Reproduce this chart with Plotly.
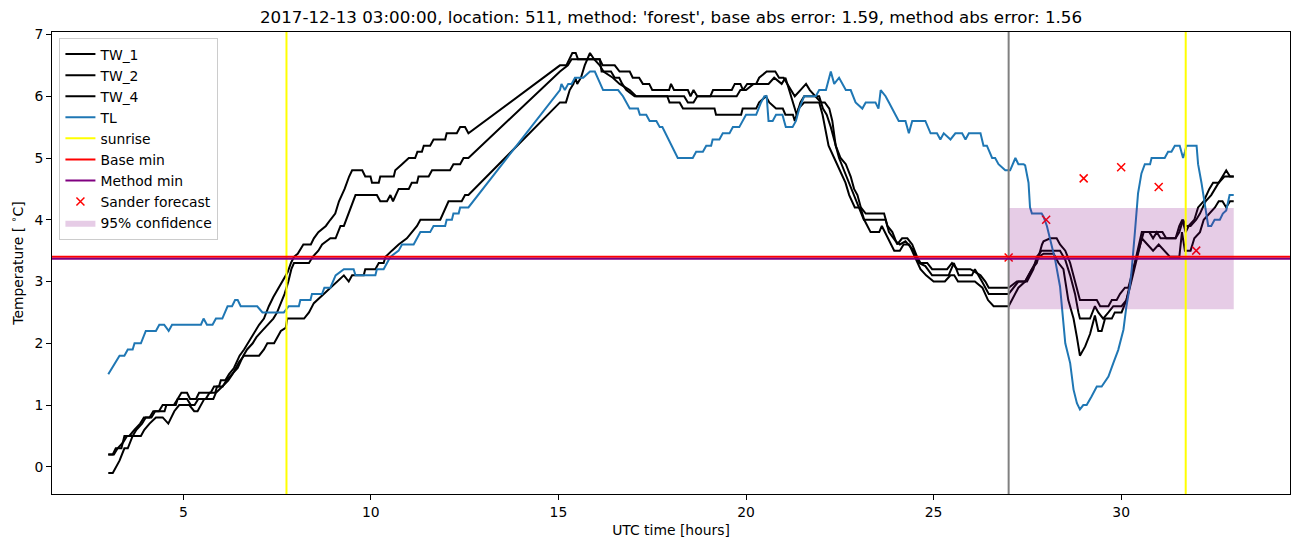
import plotly.graph_objects as go

# ---------------- data ----------------
tw1_hours = [3.0, 3.12, 3.2, 3.35, 3.43, 3.56, 3.7, 3.85, 3.95, 4.1, 4.2, 4.35, 4.45, 4.8, 4.85, 4.95, 5.1, 5.18, 5.34, 5.42, 5.73, 5.82, 5.95, 6.0, 6.12, 6.22, 6.35, 6.5, 6.62, 6.72, 6.9, 7.02, 7.15, 7.28, 7.4, 7.55, 7.65, 7.78, 7.87, 7.95, 8.05, 8.2, 8.4, 8.48, 8.6, 8.8, 8.92, 9.05, 9.15, 9.3, 9.42, 9.5, 9.77, 9.85, 9.99, 10.03, 10.21, 10.25, 10.61, 10.65, 10.83, 11.01, 11.18, 11.24, 11.36, 11.41, 11.58, 11.67, 11.98, 12.02, 12.29, 12.38, 12.51, 12.6, 15.04, 15.21, 15.37, 15.46, 15.52, 16.1, 16.18, 16.5, 16.63, 16.9, 16.98, 17.15, 17.25, 17.42, 17.5, 17.95, 18.0, 18.08, 18.45, 18.52, 18.6, 18.7, 19.05, 19.12, 19.62, 19.7, 19.85, 19.92, 20.03, 20.27, 20.35, 20.55, 20.78, 20.88, 21.0, 21.1, 21.2, 21.3, 21.45, 21.6, 21.7, 21.85, 22.0, 22.1, 22.22, 22.3, 22.39, 22.52, 22.66, 22.79, 22.88, 22.97, 23.06, 23.19, 23.68, 23.77, 23.9, 24.03, 24.16, 24.3, 24.43, 24.56, 24.65, 24.83, 24.96, 25.36, 25.49, 25.63, 25.98, 26.25, 26.38, 26.47, 27.0, 27.22, 27.44, 27.62, 27.75, 27.89, 27.93, 28.11, 28.28, 28.37, 28.51, 28.64, 28.77, 28.9, 29.35, 29.44, 29.66, 29.75, 29.88, 29.97, 30.1, 30.19, 30.32, 30.45, 30.6, 31.1, 31.2, 31.45, 31.55, 31.63, 31.72, 31.8, 31.95, 32.05, 32.2, 32.35, 32.45, 32.6, 32.7, 32.8, 32.9, 33.0]
tw1_temp = [0.2, 0.2, 0.3, 0.3, 0.5, 0.5, 0.6, 0.7, 0.8, 0.8, 0.9, 0.9, 1.0, 1.0, 1.1, 1.2, 1.2, 1.1, 1.1, 1.2, 1.2, 1.3, 1.3, 1.4, 1.4, 1.5, 1.6, 1.8, 1.9, 2.0, 2.2, 2.3, 2.4, 2.6, 2.75, 2.9, 3.0, 3.15, 3.3, 3.4, 3.45, 3.6, 3.6, 3.7, 3.8, 3.9, 4.0, 4.1, 4.3, 4.5, 4.7, 4.8, 4.8, 4.7, 4.7, 4.6, 4.6, 4.7, 4.7, 4.8, 4.9, 5.0, 5.0, 5.1, 5.1, 5.2, 5.2, 5.3, 5.3, 5.4, 5.4, 5.5, 5.5, 5.4, 6.5, 6.5, 6.7, 6.7, 6.6, 6.6, 6.5, 6.5, 6.4, 6.4, 6.3, 6.3, 6.2, 6.2, 6.1, 6.1, 6.2, 6.1, 6.1, 6.0, 6.1, 6.0, 6.0, 6.1, 6.1, 6.2, 6.2, 6.1, 6.2, 6.2, 6.3, 6.4, 6.4, 6.3, 6.3, 6.2, 6.1, 6.0, 6.1, 6.2, 6.1, 6.0, 5.9, 5.9, 5.8, 5.6, 5.2, 5.0, 4.9, 4.7, 4.5, 4.4, 4.2, 4.1, 4.1, 3.9, 3.8, 3.6, 3.7, 3.7, 3.6, 3.4, 3.3, 3.3, 3.2, 3.2, 3.3, 3.2, 3.2, 3.1, 3.0, 2.9, 2.9, 3.0, 3.0, 3.2, 3.3, 3.6, 3.65, 3.7, 3.7, 3.6, 3.5, 3.3, 3.0, 2.7, 2.7, 2.6, 2.6, 2.7, 2.7, 2.8, 2.9, 2.9, 3.2, 3.5, 3.8, 3.8, 3.7, 3.7, 3.9, 4.0, 3.8, 3.9, 4.0, 4.2, 4.3, 4.5, 4.6, 4.6, 4.7, 4.8, 4.7, 4.7]

tw2_hours = [3.0, 3.15, 3.25, 3.4, 3.5, 3.65, 3.75, 3.9, 4.0, 4.15, 4.25, 4.5, 4.55, 4.75, 4.85, 5.1, 5.2, 5.3, 5.4, 5.6, 5.7, 5.85, 5.9, 6.05, 6.15, 6.3, 6.45, 6.6, 6.7, 6.85, 6.95, 7.1, 7.25, 7.4, 7.5, 7.6, 7.7, 7.8, 7.88, 7.95, 8.35, 8.45, 8.6, 8.7, 8.92, 9.06, 9.19, 9.28, 9.46, 9.59, 10.16, 10.25, 10.43, 10.52, 10.59, 10.74, 11.01, 11.09, 11.23, 11.27, 11.54, 11.63, 12.11, 12.2, 12.38, 12.47, 12.6, 15.04, 15.25, 15.35, 16.1, 16.15, 16.4, 16.5, 16.62, 16.7, 16.81, 17.03, 18.35, 18.45, 18.6, 18.7, 19.75, 19.85, 20.0, 20.2, 20.6, 20.75, 20.95, 21.05, 21.15, 21.25, 21.35, 21.45, 21.55, 21.95, 22.05, 22.15, 22.26, 22.48, 22.75, 23.01, 23.14, 23.72, 23.81, 23.99, 24.1, 24.25, 24.47, 24.61, 24.78, 24.96, 25.4, 25.54, 25.67, 26.02, 26.1, 26.29, 26.47, 27.0, 27.26, 27.49, 27.66, 27.75, 27.88, 28.37, 28.51, 28.64, 28.77, 28.86, 28.9, 29.17, 29.3, 29.39, 29.52, 29.66, 29.79, 30.01, 30.14, 30.25, 30.4, 30.55, 30.75, 30.85, 30.95, 31.05, 31.45, 31.55, 31.65, 31.72, 31.85, 32.0, 32.1, 32.25, 32.4, 32.5, 32.6, 32.75, 33.0]
tw2_temp = [0.2, 0.2, 0.3, 0.4, 0.5, 0.5, 0.6, 0.7, 0.8, 0.8, 0.9, 0.9, 1.0, 1.0, 1.1, 1.1, 1.0, 1.0, 1.1, 1.1, 1.2, 1.2, 1.3, 1.3, 1.4, 1.5, 1.6, 1.8, 1.9, 2.0, 2.1, 2.2, 2.3, 2.4, 2.5, 2.65, 2.8, 3.0, 3.2, 3.3, 3.3, 3.4, 3.5, 3.6, 3.7, 3.7, 3.9, 3.9, 4.2, 4.4, 4.4, 4.3, 4.3, 4.4, 4.3, 4.5, 4.5, 4.6, 4.6, 4.7, 4.7, 4.8, 4.8, 4.9, 4.9, 5.0, 5.0, 6.4, 6.5, 6.6, 6.6, 6.4, 6.4, 6.3, 6.3, 6.2, 6.1, 6.0, 6.0, 5.9, 5.9, 6.0, 6.0, 6.1, 6.1, 6.2, 6.2, 6.3, 6.2, 6.3, 6.1, 5.9, 5.7, 5.9, 6.0, 6.0, 5.8, 5.7, 5.5, 5.0, 4.6, 4.2, 4.0, 4.0, 3.8, 3.65, 3.6, 3.65, 3.5, 3.3, 3.25, 3.1, 3.1, 3.3, 3.1, 3.1, 3.2, 3.0, 2.8, 2.8, 3.0, 3.0, 3.2, 3.4, 3.5, 3.5, 3.35, 3.1, 2.8, 2.5, 2.4, 2.4, 2.6, 2.5, 2.4, 2.5, 2.6, 2.6, 2.7, 3.0, 3.4, 3.8, 3.8, 3.7, 3.8, 3.7, 3.7, 3.8, 4.0, 3.9, 3.9, 4.0, 4.1, 4.3, 4.4, 4.5, 4.6, 4.7, 4.7]

tw4_hours = [3.0, 3.12, 3.3, 3.43, 3.52, 3.65, 3.87, 3.96, 4.1, 4.27, 4.45, 4.6, 4.76, 4.89, 5.16, 5.29, 5.38, 5.56, 5.8, 5.87, 6.04, 6.2, 6.31, 6.49, 6.62, 7.02, 7.15, 7.24, 7.42, 7.6, 7.73, 7.77, 8.22, 8.35, 8.48, 8.57, 8.75, 8.92, 9.1, 9.28, 9.41, 9.5, 9.81, 9.85, 10.12, 10.21, 10.34, 10.39, 10.56, 10.74, 10.96, 11.09, 11.23, 11.32, 11.85, 12.07, 12.42, 12.51, 12.6, 15.04, 15.2, 15.3, 15.4, 15.45, 15.5, 15.6, 15.7, 15.84, 15.95, 16.1, 16.2, 16.45, 16.63, 16.9, 17.07, 17.9, 17.96, 18.23, 18.32, 19.16, 19.2, 19.87, 19.91, 20.27, 20.35, 20.53, 20.62, 20.8, 20.98, 21.05, 21.25, 21.3, 21.4, 21.55, 21.95, 22.04, 22.1, 22.2, 22.35, 22.5, 22.65, 22.75, 22.9, 23.05, 23.15, 23.32, 23.55, 23.62, 23.7, 23.85, 23.95, 24.1, 24.2, 24.35, 24.5, 24.65, 24.8, 25.0, 25.3, 25.45, 25.55, 25.65, 26.1, 26.3, 26.45, 26.6, 27.0, 27.13, 27.26, 27.44, 27.62, 27.8, 27.93, 28.2, 28.33, 28.46, 28.59, 28.73, 28.82, 28.9, 29.04, 29.17, 29.3, 29.39, 29.48, 29.57, 29.75, 29.83, 30.01, 30.14, 30.23, 30.4, 30.55, 30.7, 30.85, 31.0, 31.15, 31.3, 31.55, 31.62, 31.7, 31.85, 31.95, 32.1, 32.2, 32.35, 32.5, 32.6, 32.7, 32.8, 32.9, 33.0]
tw4_temp = [-0.1, -0.1, 0.1, 0.3, 0.3, 0.5, 0.5, 0.6, 0.7, 0.8, 0.8, 0.7, 0.9, 1.0, 1.0, 0.9, 0.9, 1.1, 1.1, 1.2, 1.3, 1.4, 1.5, 1.7, 1.8, 1.8, 1.9, 2.0, 2.0, 2.2, 2.25, 2.4, 2.4, 2.5, 2.65, 2.7, 2.8, 2.9, 3.0, 3.1, 3.0, 3.1, 3.1, 3.2, 3.2, 3.3, 3.3, 3.4, 3.5, 3.6, 3.7, 3.8, 3.9, 4.0, 4.0, 4.3, 4.3, 4.4, 4.4, 5.9, 5.9, 6.1, 6.2, 6.3, 6.2, 6.3, 6.5, 6.7, 6.6, 6.5, 6.4, 6.3, 6.2, 6.1, 6.0, 6.0, 5.9, 5.9, 5.8, 5.8, 5.7, 5.7, 5.8, 5.8, 5.9, 6.0, 5.9, 5.8, 5.8, 5.7, 5.7, 5.6, 5.8, 5.9, 5.9, 5.7, 5.5, 5.2, 5.0, 4.8, 4.6, 4.4, 4.2, 4.2, 4.0, 3.8, 3.8, 3.9, 3.8, 3.6, 3.5, 3.5, 3.6, 3.6, 3.4, 3.2, 3.1, 3.0, 3.0, 3.1, 3.1, 3.0, 3.0, 2.9, 2.7, 2.6, 2.6, 2.75, 2.9, 3.0, 3.2, 3.4, 3.45, 3.45, 3.3, 3.2, 2.7, 2.4, 2.1, 1.8, 1.95, 2.15, 2.45, 2.2, 2.2, 2.4, 2.4, 2.5, 2.5, 2.7, 2.9, 3.3, 3.7, 3.6, 3.5, 3.6, 3.5, 3.4, 3.4, 3.8, 3.5, 3.5, 3.7, 3.8, 4.0, 4.1, 4.2, 4.3, 4.3, 4.2, 4.3, 4.3]

tl_hours = [3.0, 3.3, 3.43, 3.52, 3.65, 3.7, 3.87, 4.0, 4.27, 4.36, 4.49, 4.61, 4.7, 5.47, 5.54, 5.63, 5.78, 5.87, 6.04, 6.18, 6.3, 6.38, 6.45, 6.53, 6.97, 7.11, 7.68, 7.81, 8.08, 8.12, 8.39, 8.43, 8.7, 8.76, 8.92, 9.06, 9.28, 9.54, 9.59, 10.12, 10.16, 10.34, 10.43, 10.52, 10.74, 10.83, 11.14, 11.23, 11.32, 11.58, 11.67, 11.98, 12.02, 12.16, 12.2, 12.34, 12.38, 12.6, 15.04, 15.08, 15.17, 15.26, 15.35, 15.44, 15.66, 15.84, 15.97, 16.19, 16.59, 16.72, 16.81, 16.9, 17.12, 17.17, 17.34, 17.43, 17.61, 17.7, 17.77, 18.18, 18.58, 18.67, 18.85, 18.94, 19.07, 19.11, 19.29, 19.38, 19.56, 19.65, 19.82, 19.91, 20.0, 20.27, 20.4, 20.49, 20.55, 20.6, 20.71, 20.8, 20.97, 21.06, 21.24, 21.33, 21.42, 21.55, 21.86, 21.95, 22.13, 22.26, 22.35, 22.48, 22.66, 22.79, 22.92, 23.1, 23.19, 23.45, 23.53, 23.59, 23.72, 23.81, 24.07, 24.25, 24.34, 24.43, 24.78, 24.92, 25.09, 25.18, 25.27, 25.45, 25.58, 25.76, 25.85, 25.94, 26.25, 26.33, 26.42, 26.56, 26.64, 26.73, 26.91, 27.04, 27.18, 27.26, 27.4, 27.44, 27.53, 27.57, 27.62, 27.88, 27.93, 28.02, 28.15, 28.24, 28.37, 28.46, 28.51, 28.64, 28.73, 28.82, 28.9, 28.99, 29.08, 29.21, 29.35, 29.48, 29.66, 29.79, 29.92, 30.06, 30.14, 30.23, 30.28, 30.37, 30.45, 30.54, 30.63, 30.77, 30.81, 31.16, 31.25, 31.34, 31.43, 31.56, 31.65, 31.7, 31.74, 32.01, 32.05, 32.14, 32.23, 32.32, 32.4, 32.49, 32.63, 32.71, 32.8, 32.89, 33.0]
tl_temp = [1.5, 1.8, 1.8, 1.9, 1.9, 2.0, 2.0, 2.2, 2.2, 2.3, 2.3, 2.2, 2.3, 2.3, 2.4, 2.3, 2.3, 2.4, 2.4, 2.6, 2.6, 2.7, 2.7, 2.6, 2.6, 2.5, 2.5, 2.6, 2.6, 2.7, 2.7, 2.8, 2.8, 2.9, 2.9, 3.1, 3.2, 3.2, 3.1, 3.1, 3.2, 3.2, 3.3, 3.4, 3.5, 3.6, 3.6, 3.7, 3.8, 3.8, 3.9, 3.9, 4.0, 4.0, 4.1, 4.1, 4.2, 4.2, 6.1, 6.2, 6.1, 6.2, 6.2, 6.3, 6.3, 6.4, 6.4, 6.1, 6.1, 6.0, 5.9, 5.8, 5.8, 5.7, 5.7, 5.6, 5.6, 5.5, 5.5, 5.0, 5.0, 5.1, 5.1, 5.2, 5.2, 5.3, 5.3, 5.4, 5.4, 5.5, 5.5, 5.6, 5.7, 5.7, 5.9, 6.0, 6.0, 5.6, 5.6, 5.7, 5.7, 5.5, 5.5, 5.6, 5.8, 6.0, 6.0, 6.1, 6.1, 6.4, 6.2, 6.3, 6.1, 6.1, 5.9, 5.8, 5.9, 5.9, 5.8, 6.1, 6.0, 5.9, 5.6, 5.6, 5.4, 5.6, 5.6, 5.4, 5.4, 5.3, 5.4, 5.3, 5.4, 5.4, 5.3, 5.4, 5.4, 5.2, 5.2, 5.0, 5.0, 4.9, 4.8, 4.8, 5.0, 4.9, 4.9, 4.88, 4.6, 4.2, 4.1, 4.1, 4.05, 3.9, 3.56, 3.35, 2.92, 2.33, 2.0, 1.68, 1.25, 1.03, 0.93, 1.0, 1.0, 1.14, 1.3, 1.3, 1.46, 1.68, 1.89, 2.22, 2.6, 2.92, 3.19, 3.83, 4.43, 4.75, 4.9, 4.9, 5.0, 5.0, 5.1, 5.1, 5.2, 5.2, 5.0, 5.1, 5.2, 5.2, 4.9, 4.6, 4.27, 3.9, 3.9, 4.0, 4.0, 4.1, 4.15, 4.4, 4.4]

sunrise_hours = [7.75, 31.72]
forecast_hour = 27.0
end_hour = 33.0
base_min = 3.40
method_min = 3.37
conf_low = 2.55
conf_high = 4.19
sander_hours = [27, 28, 29, 30, 31, 32]
sander_temp = [3.39, 4.0, 4.67, 4.85, 4.53, 3.50]

title_text = ("2017-12-13 03:00:00, location: 511, method: 'forest', "
              "base abs error: 1.59, method abs error: 1.56")

# ---------------- figure ----------------
# the page body has an 8 px margin, so the figure is 8 px smaller than the
# window and its margins are reduced accordingly on the left/top.
FONT = "DejaVu Sans"
W, H = 1294, 539
fig = go.Figure()

for name, xs, ys in [("TW_1", tw1_hours, tw1_temp),
                     ("TW_2", tw2_hours, tw2_temp),
                     ("TW_4", tw4_hours, tw4_temp)]:
    fig.add_trace(go.Scatter(x=xs, y=ys, mode="lines", name=name,
                             line=dict(color="black", width=2)))

fig.add_trace(go.Scatter(x=tl_hours, y=tl_temp, mode="lines", name="TL",
                         line=dict(color="#1f77b4", width=2)))

# legend-only entries for reference lines (the lines themselves are shapes)
fig.add_trace(go.Scatter(x=[None], y=[None], mode="lines", name="sunrise",
                         line=dict(color="yellow", width=2)))
fig.add_trace(go.Scatter(x=[None], y=[None], mode="lines", name="Base min",
                         line=dict(color="red", width=2)))
fig.add_trace(go.Scatter(x=[None], y=[None], mode="lines", name="Method min",
                         line=dict(color="purple", width=2)))

fig.add_trace(go.Scatter(x=sander_hours, y=sander_temp, mode="markers",
                         name="Sander forecast",
                         marker=dict(symbol="x-thin", size=8, color="red",
                                     line=dict(color="red", width=1.5))))

fig.add_trace(go.Scatter(
    x=[forecast_hour, end_hour, end_hour, forecast_hour, forecast_hour],
    y=[conf_low, conf_low, conf_high, conf_high, conf_low],
    mode="lines", fill="toself", fillcolor="rgba(128,0,128,0.2)",
    line=dict(width=0, color="rgba(128,0,128,0)"), name="95% confidence"))

# vertical / horizontal reference lines
for s in sunrise_hours:
    fig.add_shape(type="line", x0=s, x1=s, y0=0, y1=1, xref="x", yref="paper",
                  line=dict(color="yellow", width=2), layer="above")
fig.add_shape(type="line", x0=forecast_hour, x1=forecast_hour, y0=0, y1=1,
              xref="x", yref="paper", line=dict(color="gray", width=2),
              layer="above")
fig.add_shape(type="line", x0=0, x1=1, y0=base_min, y1=base_min,
              xref="paper", yref="y", line=dict(color="red", width=2),
              layer="above")
fig.add_shape(type="line", x0=0, x1=1, y0=method_min, y1=method_min,
              xref="paper", yref="y", line=dict(color="purple", width=2),
              layer="above")

axis_common = dict(showline=True, linecolor="black", linewidth=1, mirror=True,
                   ticks="outside", ticklen=5, tickwidth=1, tickcolor="black",
                   showgrid=False, zeroline=False,
                   tickfont=dict(family=FONT, size=13.9, color="black"))

fig.update_layout(
    width=W, height=H,
    margin=dict(l=44, r=12, t=24, b=53, autoexpand=False),
    paper_bgcolor="white", plot_bgcolor="white",
    font=dict(family=FONT, size=13.9, color="black"),
    title=dict(text=title_text, x=0.5, xref="paper", xanchor="center",
               y=1 - 9 / H, yref="container", yanchor="middle",
               font=dict(family=FONT, size=16.7, color="black")),
    xaxis=dict(range=[1.5, 34.5], tickvals=[5, 10, 15, 20, 25, 30],
               title=dict(text="UTC time [hours]", standoff=6,
                          font=dict(family=FONT, size=13.9)),
               **axis_common),
    yaxis=dict(range=[-0.44, 7.04], tickvals=[0, 1, 2, 3, 4, 5, 6, 7],
               title=dict(text="Temperature [ <sup>∘</sup>C]", standoff=8,
                          font=dict(family=FONT, size=13.9)),
               **axis_common),
    legend=dict(x=0.006, y=0.988, xanchor="left", yanchor="top",
                bgcolor="rgba(255,255,255,0.8)", bordercolor="#cccccc",
                borderwidth=1, itemwidth=30,
                font=dict(family=FONT, size=13.9, color="black")),
    showlegend=True,
)

fig.write_html("out.html")
